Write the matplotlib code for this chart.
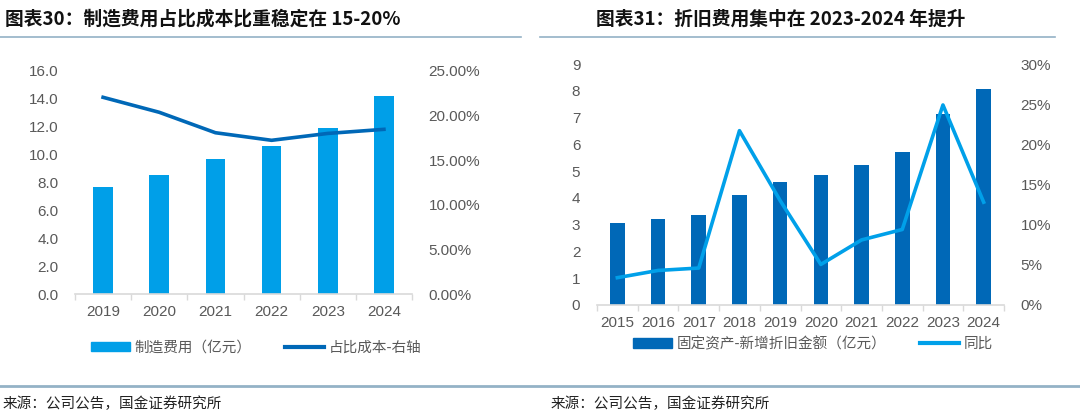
import matplotlib
import matplotlib.pyplot as plt
from matplotlib.lines import Line2D
from matplotlib.ticker import FuncFormatter
import numpy as np

matplotlib.use('Agg')
plt.rcParams['font.family'] = ['Liberation Sans', 'Noto Sans CJK SC', 'DejaVu Sans']

# chart 30: manufacturing cost and its share of cost
years_l = ['2019', '2020', '2021', '2022', '2023', '2024']
mfg_cost = [7.7, 8.54, 9.68, 10.64, 11.88, 14.18]
mfg_share = [22.05, 20.37, 18.08, 17.23, 18.0, 18.46]

# chart 31: new depreciation of fixed assets and yoy
years_r = ['2015', '2016', '2017', '2018', '2019', '2020', '2021', '2022', '2023', '2024']
depr = [3.08, 3.23, 3.37, 4.10, 4.60, 4.85, 5.24, 5.73, 7.15, 8.06]
depr_yoy = [3.4, 4.3, 4.6, 21.7, 13.0, 5.05, 8.1, 9.4, 24.9, 12.8]

GRAY = '#595959'
AXIS = '#d9d9d9'
RULE = '#94b2c6'
CJK = ['Noto Sans CJK SC', 'DejaVu Sans']


def style_axes(ax, ax2, n):
    for a in (ax, ax2):
        for s in ('top', 'right', 'left', 'bottom'):
            a.spines[s].set_visible(False)
        a.tick_params(axis='y', length=0, labelcolor=GRAY, labelsize=11, pad=12)
    ax.spines['bottom'].set_visible(True)
    ax.spines['bottom'].set_color(AXIS)
    ax.spines['bottom'].set_linewidth(1.2)
    ax.set_xticks(np.arange(n))
    ax.set_xticks(np.arange(n + 1) - 0.5, minor=True)
    ax.tick_params(axis='x', which='major', length=0, labelcolor=GRAY, labelsize=11, pad=8)
    ax.tick_params(axis='x', which='minor', length=4, color=AXIS, width=1)
    ax.set_xlim(-0.5, n - 0.5)


fig = plt.figure(figsize=(10.8, 4.17), dpi=100)

# ---- left chart
ax1 = fig.add_axes([75 / 1080, 1 - 294 / 417, 337 / 1080, 223 / 417])
ax1b = ax1.twinx()
x = np.arange(len(years_l))
ax1.bar(x, mfg_cost, width=0.35, color='#009fe8', zorder=2)
ax1b.plot(x, mfg_share, color='#0068b7', lw=2.6)
ax1.set_ylim(0, 16)
ax1.set_yticks(np.arange(0, 16.1, 2))
ax1.yaxis.set_major_formatter(FuncFormatter(lambda v, p: f'{v:.1f}'))
ax1b.set_ylim(0, 25)
ax1b.set_yticks(np.arange(0, 25.1, 5))
ax1b.yaxis.set_major_formatter(FuncFormatter(lambda v, p: f'{v:.2f}%'))
style_axes(ax1, ax1b, len(years_l))
ax1.set_xticklabels(years_l)
h1 = [plt.Rectangle((0, 0), 1, 1, color='#009fe8'),
      Line2D([], [], color='#0068b7', lw=3)]
fig.legend(h1, ['制造费用（亿元）', '占比成本-右轴'], loc='center', ncol=2,
           bbox_to_anchor=(256 / 1080, 1 - 348 / 417), frameon=False,
           prop={'family': CJK, 'size': 10.5}, labelcolor=GRAY,
           handlelength=2.7, handleheight=0.6, handletextpad=0.3, columnspacing=2.3)

# ---- right chart
ax2 = fig.add_axes([597 / 1080, 1 - 305 / 417, 407 / 1080, 241 / 417])
ax2b = ax2.twinx()
x = np.arange(len(years_r))
ax2.bar(x, depr, width=0.36, color='#0068b7', zorder=2)
ax2b.plot(x, depr_yoy, color='#00a0e9', lw=2.6)
ax2.set_ylim(0, 9)
ax2.set_yticks(np.arange(0, 10, 1))
ax2b.set_ylim(0, 30)
ax2b.set_yticks(np.arange(0, 31, 5))
ax2b.yaxis.set_major_formatter(FuncFormatter(lambda v, p: f'{v:.0f}%'))
style_axes(ax2, ax2b, len(years_r))
ax2.set_xticklabels(years_r)
h2 = [plt.Rectangle((0, 0), 1, 1, color='#0068b7'),
      Line2D([], [], color='#00a0e9', lw=3)]
fig.legend(h2, ['固定资产-新增折旧金额（亿元）', '同比'], loc='center', ncol=2,
           bbox_to_anchor=(813 / 1080, 1 - 344 / 417), frameon=False,
           prop={'family': CJK, 'size': 10.5}, labelcolor=GRAY,
           handlelength=2.7, handleheight=0.6, handletextpad=0.3, columnspacing=2.3)

# ---- titles, rules, sources
fig.text(5 / 1080, 1 - 19 / 417, '图表30：制造费用占比成本比重稳定在 15-20%', family=CJK,
         fontsize=13.5, fontweight='bold', va='center', ha='left', color='#111111')
fig.text(596 / 1080, 1 - 19 / 417, '图表31：折旧费用集中在 2023-2024 年提升', family=CJK,
         fontsize=13.5, fontweight='bold', va='center', ha='left', color='#111111')
fig.add_artist(Line2D([0, 521 / 1080], [1 - 37 / 417] * 2, color=RULE, lw=1.2))
fig.add_artist(Line2D([540 / 1080, 1055 / 1080], [1 - 37 / 417] * 2, color=RULE, lw=1.2))
fig.add_artist(Line2D([0, 1], [1 - 386 / 417] * 2, color=RULE, lw=2))
fig.text(3 / 1080, 1 - 404 / 417, '来源：公司公告，国金证券研究所', family=CJK,
         fontsize=10.5, va='center', ha='left', color='#222222')
fig.text(551 / 1080, 1 - 404 / 417, '来源：公司公告，国金证券研究所', family=CJK,
         fontsize=10.5, va='center', ha='left', color='#222222')

fig.savefig('out.png', dpi=100)
